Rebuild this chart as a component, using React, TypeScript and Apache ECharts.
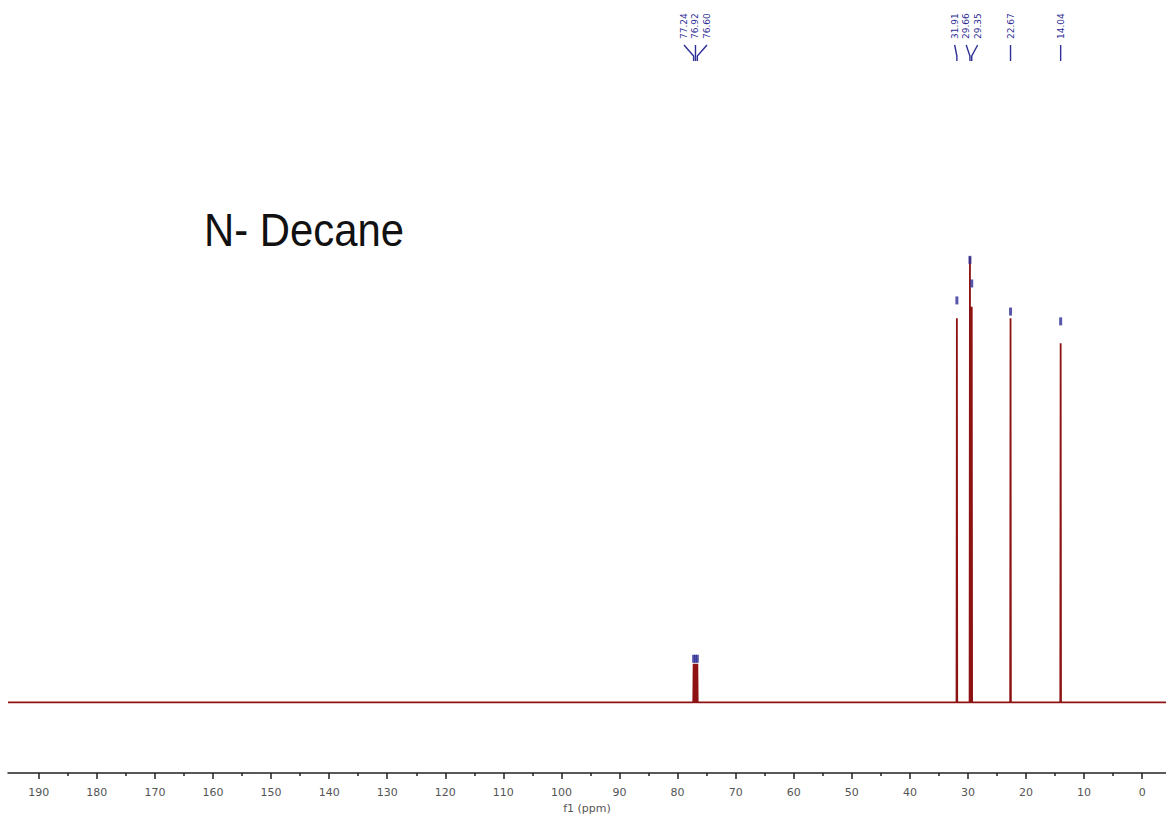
import React, { useEffect, useRef } from "react";
import * as echarts from "echarts";

// 13C NMR spectrum of n-decane (CDCl3)
const peakPpm = [77.24, 76.92, 76.6, 31.91, 29.66, 29.35, 22.67, 14.04];
const peakHeight = [8.7, 8.7, 8.7, 86.2, 100, 88.8, 86.2, 80.6];
const markerHeight = [9.8, 9.8, 9.8, 90.2, 99.3, 94.0, 87.7, 85.5];
const labelGroup = [0, 0, 0, 1, 1, 1, 2, 3];
const majorTicks = [0, 10, 20, 30, 40, 50, 60, 70, 80, 90, 100, 110, 120, 130, 140, 150, 160, 170, 180, 190];
const minorTicks = [5, 15, 25, 35, 45, 55, 65, 75, 85, 95, 105, 115, 125, 135, 145, 155, 165, 175, 185];
const ppmMin = -4.1;
const ppmMax = 195.3;
const title = "N- Decane";
const axisName = "f1 (ppm)";

const RED = "#8e1212";
const BLUE = "#2e2e96";

export default function App() {
  const ref = useRef<HTMLDivElement>(null);

  useEffect(() => {
    document.body.style.margin = "0";
    const chart = echarts.init(ref.current!, null, { renderer: "svg" });

    const halfWidth = 0.06;
    const order = peakPpm.map((p, i) => i).sort((a, b) => peakPpm[b] - peakPpm[a]);
    const spectrum: number[][] = [[ppmMax, 0]];
    order.forEach((i) => {
      spectrum.push([peakPpm[i] + halfWidth, 0]);
      spectrum.push([peakPpm[i], peakHeight[i]]);
      spectrum.push([peakPpm[i] - halfWidth, 0]);
    });
    spectrum.push([ppmMin, 0]);

    const markers = peakPpm.map((p, i) => [p, markerHeight[i]]);
    const labelData = peakPpm.map((p, i) => [p, 0, i]);

    const option: any = {
      animation: false,
      grid: { left: 8, right: 0, top: 0, bottom: 42, containLabel: false },
      xAxis: [
        {
          type: "value",
          min: ppmMin,
          max: ppmMax,
          inverse: true,
          position: "bottom",
          axisLine: { show: true, onZero: false, lineStyle: { color: "#222", width: 1.5 } },
          axisTick: { show: true, customValues: majorTicks, length: 6, lineStyle: { color: "#222", width: 1.5 } },
          axisLabel: { customValues: majorTicks, fontSize: 11, color: "#555", margin: 14, fontFamily: "DejaVu Sans" },
          splitLine: { show: false },
          name: axisName,
          nameLocation: "middle",
          nameGap: 29,
          nameTextStyle: { fontSize: 11, color: "#555", fontFamily: "DejaVu Sans" },
        },
        {
          type: "value",
          min: ppmMin,
          max: ppmMax,
          inverse: true,
          position: "bottom",
          offset: 0,
          axisLine: { show: false, onZero: false },
          axisTick: { show: true, customValues: minorTicks, length: 3, lineStyle: { color: "#222", width: 1.5 } },
          axisLabel: { show: false },
          splitLine: { show: false },
        },
      ],
      yAxis: { type: "value", min: -15.85, max: 157.6, show: false },
      graphic: [
        {
          type: "text",
          x: 204,
          y: 230,
          scaleX: 0.89,
          style: {
            text: title,
            fill: "#111",
            font: "47px 'Liberation Sans', Arial, sans-serif",
            verticalAlign: "middle",
            align: "left",
          },
        },
      ],
      series: [
        {
          type: "line",
          data: spectrum,
          showSymbol: false,
          symbol: "none",
          lineStyle: { color: RED, width: 1.8 },
          xAxisIndex: 0,
          z: 2,
        },
        {
          type: "scatter",
          data: markers,
          symbol: "rect",
          symbolSize: [3, 8],
          itemStyle: { color: BLUE },
          xAxisIndex: 0,
          z: 3,
        },
        {
          type: "custom",
          xAxisIndex: 0,
          clip: false,
          data: labelData,
          renderItem: (params: any, api: any) => {
            const i = api.value(2);
            const p = peakPpm[i];
            const g = labelGroup[i];
            const members = peakPpm.map((q, k) => k).filter((k) => labelGroup[k] === g);
            const pxs = members.map((k) => api.coord([peakPpm[k], 0])[0]);
            const center = pxs.reduce((a, b) => a + b, 0) / pxs.length;
            const pos = members.indexOf(i);
            const spacing = 11.5;
            const lx = center + (pos - (members.length - 1) / 2) * spacing;
            const px = api.coord([p, 0])[0];
            return {
              type: "group",
              children: [
                {
                  type: "text",
                  x: lx,
                  y: 39,
                  rotation: Math.PI / 2,
                  style: {
                    text: p.toFixed(2),
                    fill: BLUE,
                    font: "9px 'DejaVu Sans'",
                    align: "left",
                    verticalAlign: "middle",
                  },
                },
                {
                  type: "polyline",
                  shape: { points: [[lx, 45], [px, 56], [px, 61]] },
                  style: { stroke: BLUE, lineWidth: 1.4, fill: null },
                },
              ],
            };
          },
        },
      ],
    };

    chart.setOption(option);
    return () => chart.dispose();
  }, []);

  return (
    <div
      ref={ref}
      style={{ position: "absolute", left: 0, top: 0, width: 1166, height: 819 }}
    />
  );
}
